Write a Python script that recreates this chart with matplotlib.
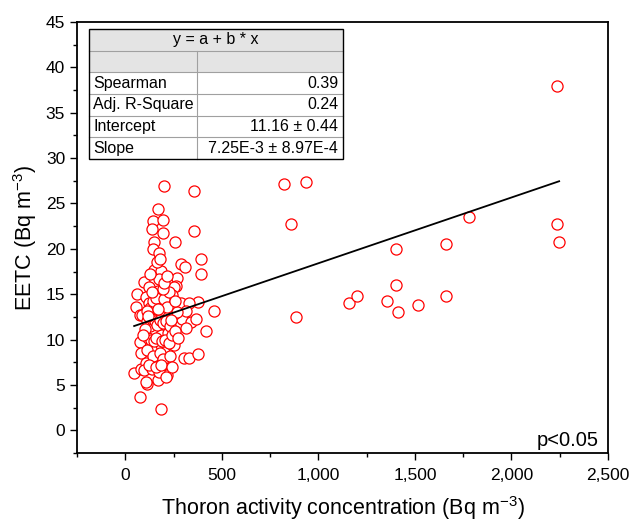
import numpy as np
import matplotlib
matplotlib.use('Agg')
import matplotlib.pyplot as plt
from matplotlib.patches import Rectangle
from matplotlib.ticker import MultipleLocator, StrMethodFormatter

plt.rcParams['font.family'] = ['Liberation Sans', 'DejaVu Sans']
plt.rcParams['mathtext.fontset'] = 'custom'
plt.rcParams['mathtext.rm'] = 'Liberation Sans'
plt.rcParams['mathtext.it'] = 'Liberation Sans:italic'

# thoron activity concentration (Bq m-3) vs EETC (Bq m-3)
thoron = [201, 356, 167, 146, 193, 141, 196, 358, 258, 149, 146, 175, 393, 287, 310, 391,
          149, 184, 270, 97, 175, 262, 63, 118, 175, 287, 379, 460, 54, 236, 330, 77,
          296, 339, 317, 417, 175, 75, 253, 305, 330, 377, 80, 167, 46, 80, 215, 167,
          115, 75, 184,
          167, 123, 253, 106, 244, 123, 184, 313, 89, 149, 219, 365,
          106, 149, 184, 219, 132, 201, 158, 210, 106, 97, 141, 175, 106, 210,
          110, 128, 140, 155, 165, 180, 195, 210, 230, 250, 270, 120, 135, 150, 160, 190,
          205, 225, 240, 115, 145, 180, 195, 230, 125, 160, 185, 240, 130, 145, 160, 200,
          215, 225, 195, 140, 110, 100, 90, 260, 275, 200, 215, 130, 165, 180, 120, 170,
          235, 255,
          822, 936, 857, 883, 1157, 1199, 1358, 1401, 1410, 1401, 1515, 1660, 1660, 1780,
          2235, 2247, 2235]
eetc = [26.9, 26.4, 24.4, 23.1, 23.2, 22.2, 21.8, 22.0, 20.8, 20.7, 20.0, 19.5, 18.9, 18.3, 18.0, 17.2,
        17.7, 17.6, 16.8, 16.4, 16.7, 15.9, 15.0, 14.5, 14.0, 14.0, 14.1, 13.1, 13.6, 13.8, 14.0, 12.7,
        12.3, 11.9, 11.3, 10.9, 10.6, 9.7, 9.4, 8.0, 8.0, 8.4, 8.5, 9.0, 6.3, 6.8, 6.1, 5.5,
        5.1, 3.7, 2.4,
        15.4, 15.8, 15.8, 14.7, 14.9, 14.0, 13.8, 13.2, 12.7, 13.0, 12.5, 12.3,
        10.7, 11.0, 10.5, 10.7, 9.0, 8.6, 8.0, 7.4, 7.4, 6.6, 6.8, 6.4, 5.3, 5.9,
        12.0, 11.5, 12.3, 12.0, 11.6, 12.2, 11.8, 12.0, 11.5, 12.8, 13.0, 10.2, 10.0, 9.8, 10.2, 9.8,
        10.0, 9.6, 10.5, 8.8, 8.2, 8.5, 7.9, 8.2, 7.2, 7.0, 7.2, 7.0, 13.5, 14.2, 14.6, 14.5,
        13.6, 15.2, 15.6, 15.2, 13.2, 11.2, 10.5, 11.0, 10.2, 16.2, 17.0, 17.2, 18.5, 18.9, 12.6, 13.4,
        12.2, 14.3,
        27.2, 27.4, 22.7, 12.5, 14.0, 14.8, 14.3, 16.0, 13.0, 20.0, 13.8, 20.5, 14.8, 23.5,
        22.7, 20.7, 37.9]

# linear fit results shown in the table
intercept = 11.16
slope = 7.25e-3
table_title = 'y = a + b * x'
table_rows = ['Spearman', 'Adj. R-Square', 'Intercept', 'Slope']
table_vals = ['0.39', '0.24', '11.16 \u00b1 0.44', '7.25E-3 \u00b1 8.97E-4']

fig = plt.figure(figsize=(6.32, 5.21), dpi=100)
ax = fig.add_axes([77 / 632, 1 - 453 / 521, 531 / 632, 431 / 521])

ax.plot(thoron, eetc, 'o', ls='none', ms=8, mfc='white', mec='red', mew=0.9, zorder=2)

xfit = np.array([min(thoron), max(thoron)])
ax.plot(xfit, intercept + slope * xfit, color='black', lw=1.3, zorder=3)

ax.set_xlim(-250, 2500)
ax.set_ylim(-2.5, 45)
ax.xaxis.set_major_locator(MultipleLocator(500))
ax.xaxis.set_minor_locator(MultipleLocator(250))
ax.yaxis.set_major_locator(MultipleLocator(5))
ax.yaxis.set_minor_locator(MultipleLocator(2.5))
ax.xaxis.set_major_formatter(StrMethodFormatter('{x:,.0f}'))
ax.tick_params(which='major', direction='out', length=5, width=1, labelsize=12.5,
               top=False, right=False)
ax.tick_params(axis='x', which='major', pad=6)
ax.tick_params(which='minor', direction='out', length=3, width=1, top=False, right=False)
for sp in ax.spines.values():
    sp.set_linewidth(1.3)

ax.set_xlabel('Thoron activity concentration (Bq m$^{-3}$)', fontsize=15.5, labelpad=8)
ax.set_ylabel('EETC (Bq m$^{-3}$)', fontsize=15.5, labelpad=5)

ax.text(0.925, 0.028, 'p<0.05', transform=ax.transAxes, fontsize=14.5,
        ha='center', va='center')

# fit statistics table (drawn in axes fraction coords)
tl, tr, tdiv = 0.0226, 0.5, 0.226
ttop, tbot = 0.984, 0.682
rh = (ttop - tbot) / 6
grey = '#e4e4e4'
line_c = '#a0a0a0'
ax.add_patch(Rectangle((tl, ttop - 2 * rh), tr - tl, 2 * rh, transform=ax.transAxes,
                       facecolor=grey, edgecolor='none', zorder=5))
ax.add_patch(Rectangle((tl, tbot), tr - tl, 4 * rh, transform=ax.transAxes,
                       facecolor='white', edgecolor='none', zorder=5))
for i in range(1, 6):
    yy = ttop - i * rh
    ax.plot([tl, tr], [yy, yy], transform=ax.transAxes, color=line_c, lw=0.8, zorder=6)
ax.plot([tdiv, tdiv], [tbot, ttop - rh], transform=ax.transAxes, color=line_c, lw=0.8, zorder=6)
ax.add_patch(Rectangle((tl, tbot), tr - tl, ttop - tbot, transform=ax.transAxes,
                       facecolor='none', edgecolor='black', lw=1.0, zorder=7))
ax.text((tl + tr) / 2, ttop - rh / 2, table_title, transform=ax.transAxes,
        ha='center', va='center', fontsize=11.5, zorder=8)
for i, (name, val) in enumerate(zip(table_rows, table_vals)):
    yy = ttop - (i + 2.5) * rh
    ax.text(tl + 0.008, yy, name, transform=ax.transAxes, ha='left', va='center',
            fontsize=11.5, zorder=8)
    ax.text(tr - 0.008, yy, val, transform=ax.transAxes, ha='right', va='center',
            fontsize=11.5, zorder=8)

fig.savefig('out.png', dpi=100)
